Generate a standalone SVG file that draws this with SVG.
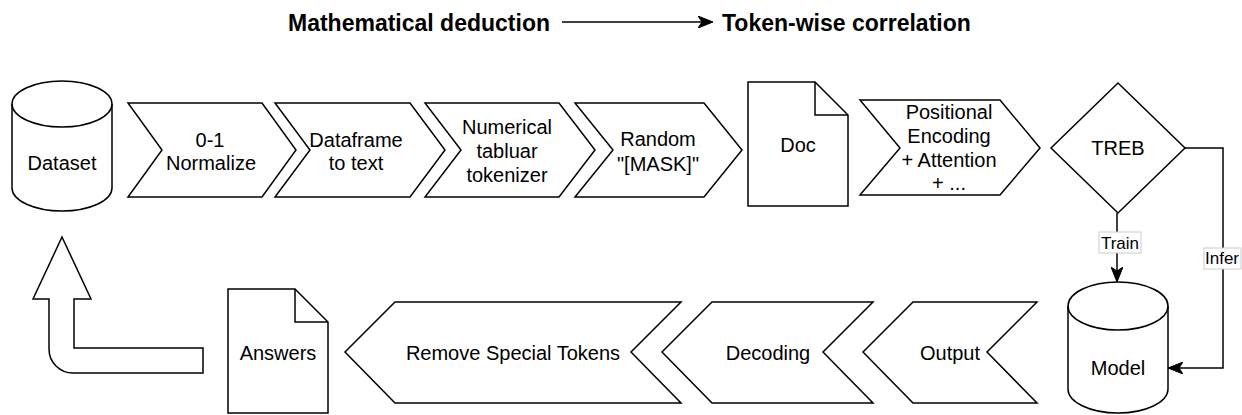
<svg xmlns="http://www.w3.org/2000/svg" width="1242" height="415" viewBox="0 0 1242 415">
  <style>
    .s { fill: #ffffff; stroke: #000000; stroke-width: 1.5; stroke-linejoin: miter; }
    .f { fill: none; stroke: #000000; stroke-width: 1.5; }
    .t { font-family: "Liberation Sans", Arial, sans-serif; font-size: 20px; fill: #000000; text-anchor: middle; dominant-baseline: central; }
    .h { font-family: "Liberation Sans", Arial, sans-serif; font-size: 23px; font-weight: bold; fill: #000000; dominant-baseline: central; }
    .l { font-family: "Liberation Sans", Arial, sans-serif; font-size: 17px; fill: #000000; text-anchor: middle; dominant-baseline: central; }
    .lb { fill: #ffffff; stroke: #cccccc; stroke-width: 1; }
    .e { fill: none; stroke: #000000; stroke-width: 1.5; }
  </style>
  <defs>
    <marker id="arr" viewBox="0 0 15 12" refX="14" refY="6" markerWidth="15" markerHeight="12" markerUnits="userSpaceOnUse" orient="auto">
      <path d="M0,0 L15,6 L0,12 L4,6 Z" fill="#000000" stroke="#000000" stroke-width="1"/>
    </marker>
  </defs>
  <rect x="0" y="0" width="1242" height="415" fill="#ffffff"/>

  <g id="title">
    <text class="h" x="288" y="23">Mathematical deduction</text>
    <text class="h" x="722" y="23">Token-wise correlation</text>
  </g>

  <g id="connectors">
    <line class="e" x1="562" y1="22" x2="712" y2="22" marker-end="url(#arr)"/>
    <path class="e" d="M1117,213 L1117,281" marker-end="url(#arr)"/>
    <path class="e" d="M1185,148 L1223,148 L1223,368 L1169,368" marker-end="url(#arr)"/>
    <rect class="lb" x="1099" y="232" width="42" height="21"/>
    <text class="l" x="1120" y="243">Train</text>
    <rect class="lb" x="1204" y="248" width="37" height="21"/>
    <text class="l" x="1222" y="258">Infer</text>
  </g>

  <g id="dataset">
    <path class="s" d="M12,104 A50,23 0 0 1 112,104 L112,188 A50,23 0 0 1 12,188 Z"/>
    <path class="f" d="M12,104 A50,23 0 0 0 112,104"/>
    <text class="t" x="62" y="163">Dataset</text>
  </g>

  <g id="normalize">
    <polygon class="s" points="128,103 262,103 296,150 262,197 128,197 162,150"/>
    <text class="t" x="210" y="140">0-1</text>
    <text class="t" x="211" y="163">Normalize</text>
  </g>

  <g id="dataframe">
    <polygon class="s" points="275,103 410,103 445,150 410,197 275,197 310,150"/>
    <text class="t" x="356" y="140">Dataframe</text>
    <text class="t" x="356" y="163">to text</text>
  </g>

  <g id="tokenizer">
    <polygon class="s" points="425,103 559,103 595,150 559,197 425,197 461,150"/>
    <text class="t" x="507" y="127">Numerical</text>
    <text class="t" x="507" y="151">tabluar</text>
    <text class="t" x="507" y="175">tokenizer</text>
  </g>

  <g id="mask">
    <polygon class="s" points="575,103 704,103 742,150 704,197 575,197 613,150"/>
    <text class="t" x="658" y="139">Random</text>
    <text class="t" x="658" y="164">"[MASK]"</text>
  </g>

  <g id="doc">
    <path class="s" d="M748,82 L815,82 L848,115 L848,206 L748,206 Z"/>
    <path class="f" d="M815,82 L815,115 L848,115"/>
    <text class="t" x="798" y="145">Doc</text>
  </g>

  <g id="positional">
    <polygon class="s" points="860,100 1000,100 1040,148 1000,195 860,195 900,148"/>
    <text class="t" x="949" y="112">Positional</text>
    <text class="t" x="949" y="136">Encoding</text>
    <text class="t" x="949" y="160">+ Attention</text>
    <text class="t" x="949" y="183">+ ...</text>
  </g>

  <g id="treb">
    <polygon class="s" points="1118,83 1185,148 1118,213 1051,148"/>
    <text class="t" x="1118" y="148">TREB</text>
  </g>

  <g id="model">
    <path class="s" d="M1068,306 A50,24 0 0 1 1168,306 L1168,389 A50,24 0 0 1 1068,389 Z"/>
    <path class="f" d="M1068,306 A50,24 0 0 0 1168,306"/>
    <text class="t" x="1118" y="368">Model</text>
  </g>

  <g id="output">
    <polygon class="s" points="863,352 913,302 1037,302 987,352 1037,403 913,403"/>
    <text class="t" x="950" y="353">Output</text>
  </g>

  <g id="decoding">
    <polygon class="s" points="662,352 712,302 873,302 823,352 873,403 712,403"/>
    <text class="t" x="768" y="353">Decoding</text>
  </g>

  <g id="remove">
    <polygon class="s" points="345,352 395,302 681,302 631,352 681,403 395,403"/>
    <text class="t" x="513" y="353">Remove Special Tokens</text>
  </g>

  <g id="answers">
    <path class="s" d="M228,289 L295,289 L328,322 L328,413 L228,413 Z"/>
    <path class="f" d="M295,289 L295,322 L328,322"/>
    <text class="t" x="278" y="353">Answers</text>
  </g>

  <g id="return-arrow">
    <path class="s" d="M62,237 L91,299 L74,299 L74,348 L203,348 L203,373 L73,373 A24,24 0 0 1 49,349 L49,299 L33,299 Z"/>
  </g>
</svg>
